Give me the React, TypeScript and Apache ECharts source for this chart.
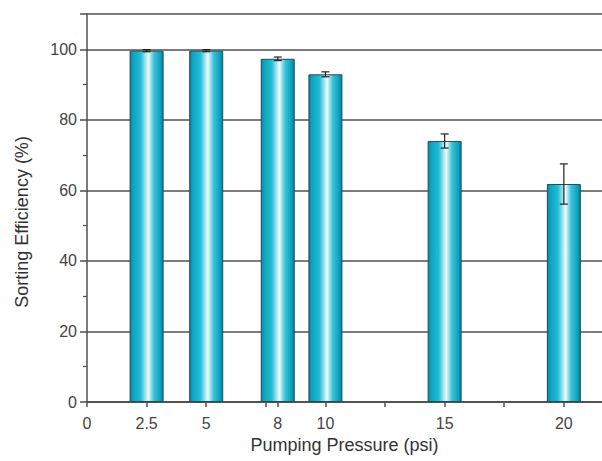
import React, { useEffect, useRef } from "react";
import * as echarts from "echarts";

const pressures = [2.5, 5, 8, 10, 15, 20];
const efficiency = [99.6, 99.6, 97.3, 92.9, 74.0, 61.8];
const errors = [0.3, 0.3, 0.5, 0.7, 2.0, 5.7];
const xLabelValues = [0, 2.5, 5, 8, 10, 15, 20];
const xTickValues = [0, 2.5, 5, 7.5, 8, 10, 12.5, 15, 17.5, 20];
const xTitle = "Pumping Pressure (psi)";
const yTitle = "Sorting Efficiency (%)";

export default function App() {
  const ref = useRef<HTMLDivElement>(null);
  useEffect(() => {
    if (!ref.current) return;
    const chart = echarts.init(ref.current, null, { renderer: "svg" });
    const axisColor = "#505050";
    const font = "Liberation Sans, Arial, sans-serif";
    const barData = pressures.map((p, i) => [p, efficiency[i]]);
    const errData = pressures.map((p, i) => [p, efficiency[i] - errors[i], efficiency[i] + errors[i]]);
    chart.setOption({
      animation: false,
      textStyle: { fontFamily: font },
      grid: { left: 87, right: 0, top: 14, bottom: 59 },
      graphic: [
        {
          type: "text",
          x: 22,
          y: 222,
          rotation: Math.PI / 2,
          style: { text: yTitle, fontSize: 18, fontFamily: font, fill: "#333", align: "center", verticalAlign: "middle" },
        },
      ],
      xAxis: [
        {
          type: "value",
          min: 0,
          max: 21.6,
          name: xTitle,
          nameLocation: "middle",
          nameGap: 29,
          nameTextStyle: { fontSize: 18, color: "#333", fontFamily: font },
          axisLine: { show: true, onZero: false, lineStyle: { color: axisColor, width: 1.5 } },
          axisTick: { show: true, length: 5, customValues: xTickValues, lineStyle: { color: axisColor, width: 1.5 } },
          axisLabel: {
            customValues: xLabelValues,
            fontSize: 16,
            color: "#444",
            margin: 13,
            formatter: (v: number) => String(v),
          },
          splitLine: { show: false },
        },
        {
          type: "value",
          position: "top",
          min: 0,
          max: 21.6,
          axisLine: { show: true, lineStyle: { color: axisColor, width: 1.5 } },
          axisTick: { show: false },
          axisLabel: { show: false },
          splitLine: { show: false },
        },
      ],
      yAxis: {
        type: "value",
        min: 0,
        max: 110,
        interval: 20,
        axisLine: { show: true, lineStyle: { color: axisColor, width: 1.5 } },
        axisTick: { show: true, length: 7, lineStyle: { color: axisColor, width: 1.5 } },
        minorTick: { show: true, splitNumber: 2, length: 4, lineStyle: { color: axisColor, width: 1.2 } },
        axisLabel: {
          fontSize: 16,
          color: "#444",
          margin: 10,
          formatter: (v: number) => (v > 100 ? "" : String(v)),
        },
        splitLine: { show: true, lineStyle: { color: "#505050", width: 1.5 } },
      },
      series: [
        {
          type: "bar",
          data: barData,
          barWidth: 34,
          itemStyle: {
            borderColor: "#1f4f5a",
            borderWidth: 1,
            color: new echarts.graphic.LinearGradient(0, 0, 1, 0, [
              { offset: 0, color: "#0d7f96" },
              { offset: 0.08, color: "#0aa4c1" },
              { offset: 0.32, color: "#22bcd5" },
              { offset: 0.55, color: "#eefbfd" },
              { offset: 0.72, color: "#3cc3da" },
              { offset: 0.92, color: "#0aa0bc" },
              { offset: 1, color: "#0b7d94" },
            ]),
          },
          z: 2,
        },
        {
          type: "custom",
          data: errData,
          z: 3,
          renderItem: (params: any, api: any) => {
            const x = api.value(0);
            const lo = api.coord([x, api.value(1)]);
            const hi = api.coord([x, api.value(2)]);
            const hw = 4;
            const style = { stroke: "#222", lineWidth: 1.2 };
            return {
              type: "group",
              children: [
                { type: "line", shape: { x1: lo[0], y1: lo[1], x2: hi[0], y2: hi[1] }, style },
                { type: "line", shape: { x1: lo[0] - hw, y1: lo[1], x2: lo[0] + hw, y2: lo[1] }, style },
                { type: "line", shape: { x1: hi[0] - hw, y1: hi[1], x2: hi[0] + hw, y2: hi[1] }, style },
              ],
            };
          },
        },
      ],
    });
    return () => chart.dispose();
  }, []);
  return <div ref={ref} style={{ position: "fixed", left: 0, top: 0, width: 602, height: 461, background: "#fff" }} />;
}
